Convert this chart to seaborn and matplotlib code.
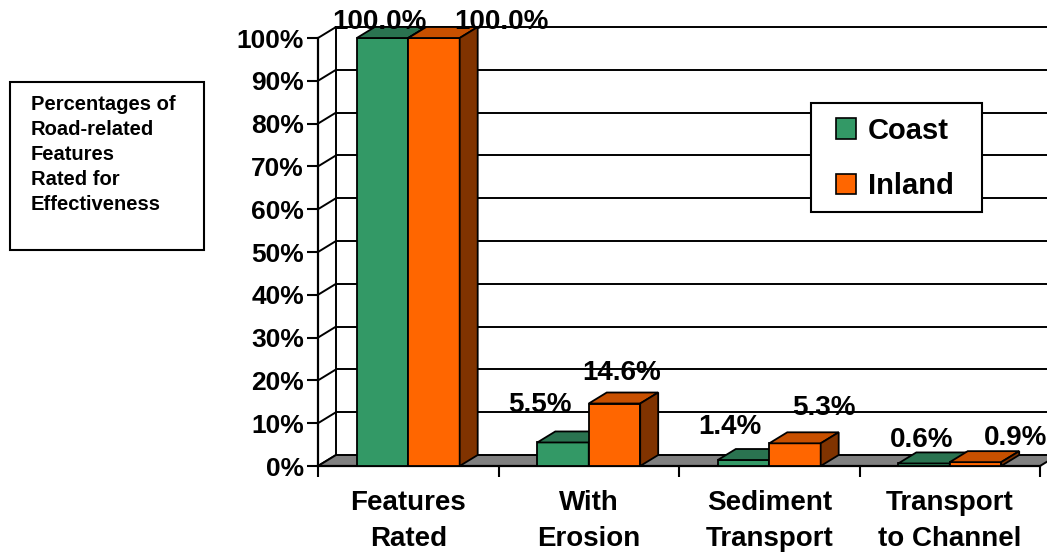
import matplotlib
matplotlib.use("Agg")
import matplotlib.pyplot as plt
from matplotlib.patches import Polygon, Rectangle
import seaborn as sns
import pandas as pd

# ---- data -------------------------------------------------------------
categories = ["Features\nRated", "With\nErosion", "Sediment\nTransport", "Transport\nto Channel"]
series_names = ["Coast", "Inland"]
coast = [100.0, 5.5, 1.4, 0.6]
inland = [100.0, 14.6, 5.3, 0.9]
y_ticks = [0, 10, 20, 30, 40, 50, 60, 70, 80, 90, 100]
side_note = "Percentages of\nRoad-related\nFeatures\nRated for\nEffectiveness"

# ---- style ------------------------------------------------------------
sns.set_theme(style="white")
plt.rcParams["font.family"] = ["Liberation Sans", "DejaVu Sans"]
plt.rcParams["font.weight"] = "bold"
plt.rcParams["text.color"] = "black"
plt.rcParams["xtick.color"] = "black"
plt.rcParams["ytick.color"] = "black"
plt.rcParams["xtick.labelcolor"] = "black"
plt.rcParams["ytick.labelcolor"] = "black"

front_colors = ["#339966", "#FF6600"]
top_colors = ["#2A7350", "#C85000"]
side_colors = ["#1C4F37", "#803300"]

# label nudges in pixels (dx, dy) from the top centre of each bar
label_nudges = {
    "Coast": [(-3, 16), (-23, 37), (-14, 33), (-2, 23)],
    "Inland": [(67, 16), (7, 31), (29, 35), (40, 24)],
}

df = pd.DataFrame({
    "category": categories * 2,
    "percent": coast + inland,
    "region": [series_names[0]] * len(categories) + [series_names[1]] * len(categories),
})

W, H = 1047, 552
fig = plt.figure(figsize=(W / 100, H / 100), dpi=100)
ax = fig.add_axes([318 / W, (H - 466) / H, 722 / W, 428 / H])

sns.barplot(data=df, x="category", y="percent", hue="region",
            palette=front_colors, width=0.57, edgecolor="black",
            linewidth=1.3, saturation=1, ax=ax)
ax.set_xlim(-0.5, 3.5)
ax.set_ylim(0, 100)

# depth of the oblique projection, converted from pixels to data units
px_x = 722 / 4.0
px_y = 428 / 100.0
dx = 18 / px_x
dy = 11 / px_y

line_kw = dict(color="black", lw=1.4, clip_on=False)

# back wall gridlines
for v in y_ticks[1:]:
    ax.plot([-0.5 + dx, 3.5 + dx], [v + dy, v + dy], zorder=1, **line_kw)
# side wall: back vertical edge and diagonals
ax.plot([-0.5 + dx, -0.5 + dx], [dy, 100 + dy], zorder=1, **line_kw)
for v in y_ticks:
    ax.plot([-0.5, -0.5 + dx], [v, v + dy], zorder=1, **line_kw)

# floor
ax.add_patch(Polygon([(-0.5, 0), (3.5, 0), (3.5 + dx, dy), (-0.5 + dx, dy)],
                     closed=True, facecolor="#808080", edgecolor="black",
                     lw=1.4, zorder=2, clip_on=False))

# 3D faces for every bar
for si, cont in enumerate(ax.containers):
    name = series_names[si]
    for ci, rect in enumerate(cont.patches):
        x0 = rect.get_x()
        w = rect.get_width()
        h = rect.get_height()
        z = 3 + si
        rect.set_zorder(z)
        rect.set_clip_on(False)
        top = Polygon([(x0, h), (x0 + w, h), (x0 + w + dx, h + dy), (x0 + dx, h + dy)],
                      closed=True, facecolor=top_colors[si], edgecolor="black",
                      lw=1.3, zorder=z + 0.1, clip_on=False)
        side = Polygon([(x0 + w, 0), (x0 + w + dx, dy), (x0 + w + dx, h + dy), (x0 + w, h)],
                       closed=True, facecolor=side_colors[si], edgecolor="black",
                       lw=1.3, zorder=z + 0.1, clip_on=False)
        ax.add_patch(top)
        ax.add_patch(side)
        ndx, ndy = label_nudges[name][ci]
        ax.annotate(f"{h:.1f}%", xy=(x0 + w / 2, h), xytext=(ndx, ndy),
                    textcoords="offset pixels", ha="center", va="center",
                    fontsize=20, fontweight="bold", color="black",
                    zorder=10, annotation_clip=False)

# axes: front vertical edge and floor front edge
for s in ["top", "right"]:
    ax.spines[s].set_visible(False)
for s in ["left", "bottom"]:
    ax.spines[s].set_visible(True)
    ax.spines[s].set_color("black")
    ax.spines[s].set_linewidth(1.6)
    ax.spines[s].set_zorder(2.5)

ax.set_yticks(y_ticks)
ax.set_yticklabels([f"{v}%" for v in y_ticks])
ax.tick_params(axis="y", which="major", direction="out", length=8, width=1.5,
               color="black", labelcolor="black", pad=2, labelsize=19, left=True)
ax.set_xticks(range(len(categories)))
ax.set_xticklabels(categories)
ax.set_xticks([-0.5, 0.5, 1.5, 2.5, 3.5], minor=True)
ax.tick_params(axis="x", which="major", length=0, pad=17, labelsize=20,
               labelcolor="black")
ax.tick_params(axis="x", which="minor", direction="out", length=8, width=1.5,
               color="black", bottom=True)
for lbl in ax.get_xticklabels():
    lbl.set_linespacing(1.5)
    lbl.set_fontweight("bold")
for lbl in ax.get_yticklabels():
    lbl.set_fontweight("bold")
ax.set_xlabel("")
ax.set_ylabel("")
ax.grid(False)
ax.set_facecolor("none")

# legend: frame drawn as its own rectangle, entries centred inside it
lx0, ly0, lw_, lh_ = 811, 103, 171, 109
ax.add_patch(Rectangle((lx0 / W, 1 - (ly0 + lh_) / H), lw_ / W, lh_ / H,
                       transform=fig.transFigure, facecolor="white",
                       edgecolor="black", lw=1.5, zorder=19, clip_on=False))
handles, labels = ax.get_legend_handles_labels()
leg = ax.legend(handles, labels, loc="center",
                bbox_to_anchor=((lx0 + lw_ / 2 - 2) / W, 1 - (ly0 + lh_ / 2 + 1) / H),
                bbox_transform=fig.transFigure, borderaxespad=0, frameon=False,
                prop={"size": 21, "weight": "bold"},
                handlelength=0.7, handleheight=0.7, handletextpad=0.4,
                labelspacing=0.95, borderpad=0)
leg.set_zorder(20)
for hnd in leg.legend_handles:
    hnd.set_edgecolor("black")
    hnd.set_linewidth(1.2)
for t in leg.get_texts():
    t.set_color("black")

# side note box
fig.patches.append(Rectangle((10 / W, 1 - 250 / H), 194 / W, 168 / H,
                             transform=fig.transFigure, facecolor="white",
                             edgecolor="black", lw=1.5))
fig.text(31 / W, 1 - 95 / H, side_note, ha="left", va="top",
         fontsize=14.5, fontweight="bold", linespacing=1.4, color="black")

fig.savefig("out.png", dpi=100)
